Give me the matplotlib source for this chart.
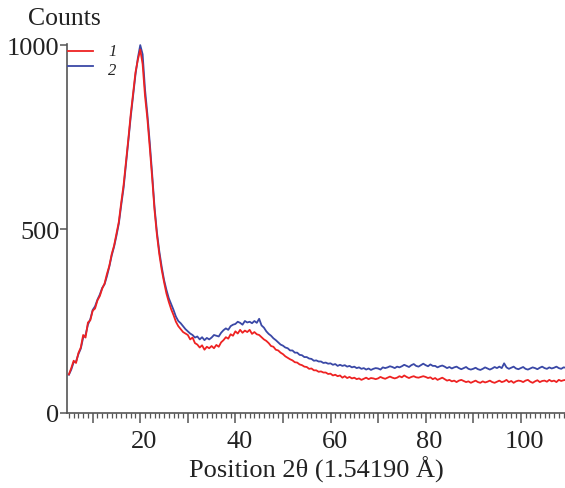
import numpy as np
import matplotlib
matplotlib.use("Agg")
import matplotlib.pyplot as plt
import matplotlib.transforms as mtrans
from matplotlib.lines import Line2D
from matplotlib.ticker import MultipleLocator, FuncFormatter

# diffraction angle grid, 0.5 deg steps from 5 to 109.5
two_theta = np.arange(5.0, 110.0, 0.5)

counts_1 = [
    105, 122, 142, 136, 163, 178, 212, 205, 246, 252,
    278, 284, 306, 318, 338, 352, 378, 400, 432, 455,
    488, 520, 572, 620, 682, 745, 812, 868, 926, 960,
    988, 948, 862, 800, 722, 640, 552, 485, 432, 390,
    356, 325, 302, 282, 266, 248, 236, 228, 220, 216,
    212, 200, 205, 190, 186, 178, 184, 172, 180, 176,
    182, 176, 185, 180, 192, 198, 206, 202, 214, 210,
    222, 216, 226, 218, 224, 220, 226, 215, 220, 214,
    212, 206, 200, 196, 190, 182, 180, 172, 170, 164,
    160, 154, 150, 146, 143, 138, 137, 132, 130, 126,
    125, 120, 121, 116, 116, 112, 113, 110, 110, 106,
    107, 102, 104, 100, 102, 96, 100, 95, 98, 94,
    96, 92, 94, 90, 93, 96, 92, 95, 94, 92,
    94, 98, 95, 93, 96, 99, 96, 94, 96, 100,
    97, 102, 98, 95, 98, 100, 97, 96, 98, 100,
    98, 95, 97, 92, 95, 90, 93, 96, 92, 88,
    90, 86, 88, 84, 88, 90, 87, 84, 86, 82,
    85, 88, 84, 82, 86, 83, 85, 88, 84, 82,
    85, 88, 84, 86, 90, 84, 87, 82, 86, 88,
    87, 84, 88, 90, 85, 82, 86, 89, 84, 87,
    88, 85, 90, 86, 88, 84, 90, 87, 89, 90,
]

counts_2 = [
    104, 118, 138, 140, 160, 175, 205, 212, 240, 255,
    280, 290, 308, 322, 340, 350, 372, 398, 428, 452,
    482, 515, 565, 612, 675, 740, 805, 862, 920, 965,
    1000, 975, 880, 812, 735, 650, 560, 492, 440, 398,
    362, 335, 312, 296, 280, 262, 250, 244, 236, 228,
    222, 216, 212, 205, 208, 200, 206, 198, 204, 200,
    205, 212, 210, 208, 218, 225, 230, 226, 236, 240,
    242, 248, 245, 240, 250, 246, 248, 244, 250, 245,
    256, 238, 232, 222, 215, 210, 203, 198, 192, 186,
    183, 178, 176, 170, 170, 164, 164, 158, 157, 152,
    152, 148, 147, 142, 143, 140, 140, 136, 137, 134,
    135, 131, 133, 128, 131, 128, 130, 126, 128, 124,
    126, 122, 124, 120, 122, 118, 121, 117, 120, 122,
    121, 118, 124, 122, 124, 127, 125, 122, 126, 124,
    127, 131, 128, 125, 130, 133, 128, 126, 130, 134,
    130, 127, 132, 128, 128, 124, 127, 129, 126, 122,
    125, 121, 124, 126, 122, 119, 122, 125, 120, 118,
    120, 123, 119, 117, 120, 124, 121, 118, 121, 125,
    122, 126, 122, 135, 124, 120, 123, 126, 121, 119,
    122, 125, 120, 118, 121, 124, 122, 119, 123, 126,
    122, 120, 124, 121, 123, 126, 122, 120, 124, 123,
]

series_names = ['1', '2']
series_colors = ['#ee2222', '#3a48a6']
y_ticks = [0, 500, 1000]

plt.rcParams['font.family'] = ['Liberation Serif', 'DejaVu Serif']
TXT = '#222222'
AX = '#555555'

fig = plt.figure(figsize=(5.65, 4.89), dpi=100)
ax = fig.add_axes([0.119, 0.1534, 0.881, 0.7546])

ax.plot(two_theta, counts_2, color=series_colors[1], lw=1.3, zorder=2)
ax.plot(two_theta, counts_1, color=series_colors[0], lw=1.3, zorder=3)

ax.set_xlim(4.65, 109.3)
ax.set_ylim(0, 1003)

for s in ['top', 'right']:
    ax.spines[s].set_visible(False)
for s in ['left', 'bottom']:
    ax.spines[s].set_color(AX)
    ax.spines[s].set_linewidth(1.2)

# major ticks every 10, labelled every 20; minor every 1
ax.xaxis.set_major_locator(MultipleLocator(10))
ax.xaxis.set_minor_locator(MultipleLocator(1))
ax.xaxis.set_major_formatter(FuncFormatter(lambda v, p: '%d' % v if int(round(v)) % 20 == 0 else ''))
ax.tick_params(axis='x', which='major', length=7, width=1.1, color=AX, pad=5,
               labelsize=19, labelcolor=TXT)
ax.tick_params(axis='x', which='minor', length=3.5, width=0.9, color=AX)
shift = mtrans.ScaledTranslation(4 / 100, 0, fig.dpi_scale_trans)
for lab in ax.get_xticklabels():
    lab.set_transform(lab.get_transform() + shift)

ax.set_yticks(y_ticks)
ax.set_yticklabels([str(v) for v in y_ticks])
ax.tick_params(axis='y', length=5, width=1.1, color=AX, pad=0.5,
               labelsize=19, labelcolor=TXT)

ax.set_xlabel('Position 2θ (1.54190 Å)', fontsize=19, color=TXT, labelpad=3)
fig.text(0.05, 0.962, 'Counts', fontsize=18.5, color=TXT, va='center', ha='left')

# small legend in the top-left corner
leg_y = [0.8937, 0.8636]
leg_base = [1 - 56 / 489, 1 - 74.7 / 489]
for name, col, yy, yb in zip(series_names, series_colors, leg_y, leg_base):
    fig.add_artist(Line2D([0.1209, 0.1641], [yy, yy], color=col, lw=1.3,
                          transform=fig.transFigure))
    fig.text(0.1912, yb, name, fontsize=12, style='italic',
             color=TXT, va='baseline', ha='left')

fig.savefig('out.png', dpi=100)
